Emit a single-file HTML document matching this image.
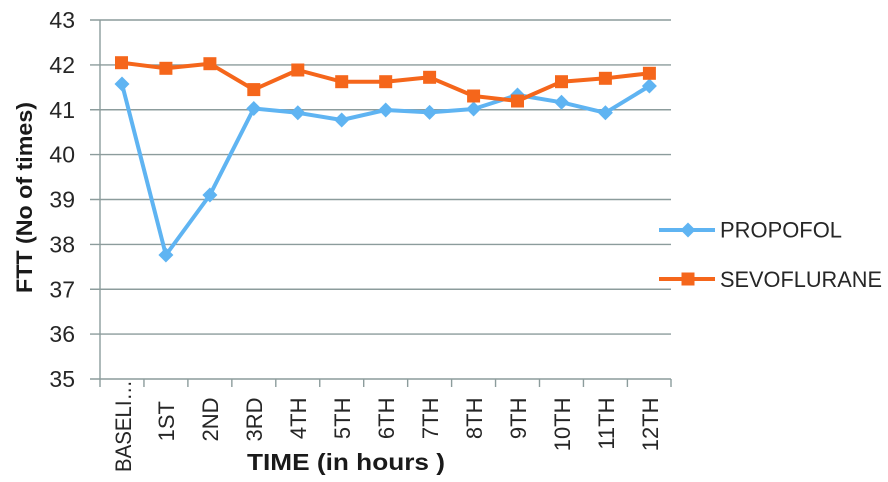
<!DOCTYPE html>
<html><head><meta charset="utf-8"><style>
html,body{margin:0;padding:0;background:#fff;}
svg{display:block;font-family:"Liberation Sans",sans-serif;}
</style></head><body>
<svg width="888" height="482" viewBox="0 0 888 482" xmlns="http://www.w3.org/2000/svg">
<rect width="888" height="482" fill="#fff"/>
<g stroke="#8c9c9c" stroke-width="1.4" fill="none">
<line x1="90" y1="20" x2="671" y2="20"/>
<line x1="90" y1="64.9" x2="671" y2="64.9"/>
<line x1="90" y1="109.75" x2="671" y2="109.75"/>
<line x1="90" y1="154.6" x2="671" y2="154.6"/>
<line x1="90" y1="199.5" x2="671" y2="199.5"/>
<line x1="90" y1="244.4" x2="671" y2="244.4"/>
<line x1="90" y1="289.25" x2="671" y2="289.25"/>
<line x1="90" y1="334.1" x2="671" y2="334.1"/>
<line x1="90" y1="379" x2="671" y2="379"/>
<line x1="100" y1="20" x2="100" y2="387"/>
<line x1="143.95" y1="379" x2="143.95" y2="387"/>
<line x1="187.9" y1="379" x2="187.9" y2="387"/>
<line x1="231.85" y1="379" x2="231.85" y2="387"/>
<line x1="275.8" y1="379" x2="275.8" y2="387"/>
<line x1="319.75" y1="379" x2="319.75" y2="387"/>
<line x1="363.7" y1="379" x2="363.7" y2="387"/>
<line x1="407.65" y1="379" x2="407.65" y2="387"/>
<line x1="451.6" y1="379" x2="451.6" y2="387"/>
<line x1="495.55" y1="379" x2="495.55" y2="387"/>
<line x1="539.5" y1="379" x2="539.5" y2="387"/>
<line x1="583.45" y1="379" x2="583.45" y2="387"/>
<line x1="627.4" y1="379" x2="627.4" y2="387"/>
<line x1="671" y1="379" x2="671" y2="387"/>
</g>
<g fill="#262626" font-size="23" text-anchor="end">
<text x="75" y="28">43</text>
<text x="75" y="72.9">42</text>
<text x="75" y="117.75">41</text>
<text x="75" y="162.6">40</text>
<text x="75" y="207.5">39</text>
<text x="75" y="252.4">38</text>
<text x="75" y="297.25">37</text>
<text x="75" y="342.1">36</text>
<text x="75" y="387">35</text>
</g>
<g fill="#262626" font-size="22" text-anchor="end">
<text transform="translate(131,380) rotate(-90)" text-anchor="start" x="-92" y="0" textLength="92" lengthAdjust="spacingAndGlyphs">BASELI…</text>
<text transform="translate(174,401) rotate(-90)">1ST</text>
<text transform="translate(218,397.5) rotate(-90)">2ND</text>
<text transform="translate(262,397.5) rotate(-90)">3RD</text>
<text transform="translate(306,397.5) rotate(-90)">4TH</text>
<text transform="translate(350,397.5) rotate(-90)">5TH</text>
<text transform="translate(394,397.5) rotate(-90)">6TH</text>
<text transform="translate(438,397.5) rotate(-90)">7TH</text>
<text transform="translate(482,397.5) rotate(-90)">8TH</text>
<text transform="translate(526,397.5) rotate(-90)">9TH</text>
<text transform="translate(570,397.5) rotate(-90)">10TH</text>
<text transform="translate(614,397.5) rotate(-90)">11TH</text>
<text transform="translate(658,397.5) rotate(-90)">12TH</text>
</g>
<text x="247" y="470" font-size="23" font-weight="bold" fill="#1a1a1a" textLength="198" lengthAdjust="spacingAndGlyphs">TIME (in hours )</text>
<text transform="translate(32,197.5) rotate(-90)" text-anchor="middle" font-size="22" font-weight="bold" fill="#1a1a1a" textLength="191" lengthAdjust="spacingAndGlyphs">FTT (No of times)</text>
<polyline fill="none" stroke="#5fb4f2" stroke-width="4" stroke-linejoin="round" points="122,84 165.9,255 209.9,195 253.8,108.5 297.8,112.8 341.7,120 385.7,110 429.6,112.4 473.6,109 517.5,95 561.5,102.3 605.4,112.8 649.4,86"/>
<g fill="#5fb4f2">
<path d="M122 76.5 L129.5 84 L122 91.5 L114.5 84Z"/>
<path d="M165.9 247.5 L173.4 255 L165.9 262.5 L158.4 255Z"/>
<path d="M209.9 187.5 L217.4 195 L209.9 202.5 L202.4 195Z"/>
<path d="M253.8 101 L261.3 108.5 L253.8 116 L246.3 108.5Z"/>
<path d="M297.8 105.3 L305.3 112.8 L297.8 120.3 L290.3 112.8Z"/>
<path d="M341.7 112.5 L349.2 120 L341.7 127.5 L334.2 120Z"/>
<path d="M385.7 102.5 L393.2 110 L385.7 117.5 L378.2 110Z"/>
<path d="M429.6 104.9 L437.1 112.4 L429.6 119.9 L422.1 112.4Z"/>
<path d="M473.6 101.5 L481.1 109 L473.6 116.5 L466.1 109Z"/>
<path d="M517.5 87.5 L525 95 L517.5 102.5 L510 95Z"/>
<path d="M561.5 94.8 L569 102.3 L561.5 109.8 L554 102.3Z"/>
<path d="M605.4 105.3 L612.9 112.8 L605.4 120.3 L597.9 112.8Z"/>
<path d="M649.4 78.5 L656.9 86 L649.4 93.5 L641.9 86Z"/>
</g>
<polyline fill="none" stroke="#f5661b" stroke-width="4" stroke-linejoin="round" points="121.5,62.7 165.9,68.3 209.9,63.7 253.8,89.6 297.8,70 341.7,81.7 385.7,81.7 429.6,77.3 473.6,96 517.5,101 561.5,81.7 605.4,78.3 649.4,73.3"/>
<g fill="#f5661b">
<rect x="115" y="56.2" width="13" height="13"/>
<rect x="159.4" y="61.8" width="13" height="13"/>
<rect x="203.4" y="57.2" width="13" height="13"/>
<rect x="247.3" y="83.1" width="13" height="13"/>
<rect x="291.3" y="63.5" width="13" height="13"/>
<rect x="335.2" y="75.2" width="13" height="13"/>
<rect x="379.2" y="75.2" width="13" height="13"/>
<rect x="423.1" y="70.8" width="13" height="13"/>
<rect x="467.1" y="89.5" width="13" height="13"/>
<rect x="511" y="94.5" width="13" height="13"/>
<rect x="555" y="75.2" width="13" height="13"/>
<rect x="598.9" y="71.8" width="13" height="13"/>
<rect x="642.9" y="66.8" width="13" height="13"/>
</g>
<line x1="659" y1="230" x2="715" y2="230" stroke="#5fb4f2" stroke-width="4"/>
<path d="M688 222.5 L695.5 230 L688 237.5 L680.5 230Z" fill="#5fb4f2"/>
<line x1="659" y1="279" x2="715" y2="279" stroke="#f5661b" stroke-width="4"/>
<rect x="681.5" y="272.5" width="13" height="13" fill="#f5661b"/>
<g fill="#262626" font-size="22">
<text x="720" y="237.5" textLength="122" lengthAdjust="spacingAndGlyphs">PROPOFOL</text>
<text x="720" y="287" textLength="162" lengthAdjust="spacingAndGlyphs">SEVOFLURANE</text>
</g>
</svg>
</body></html>
